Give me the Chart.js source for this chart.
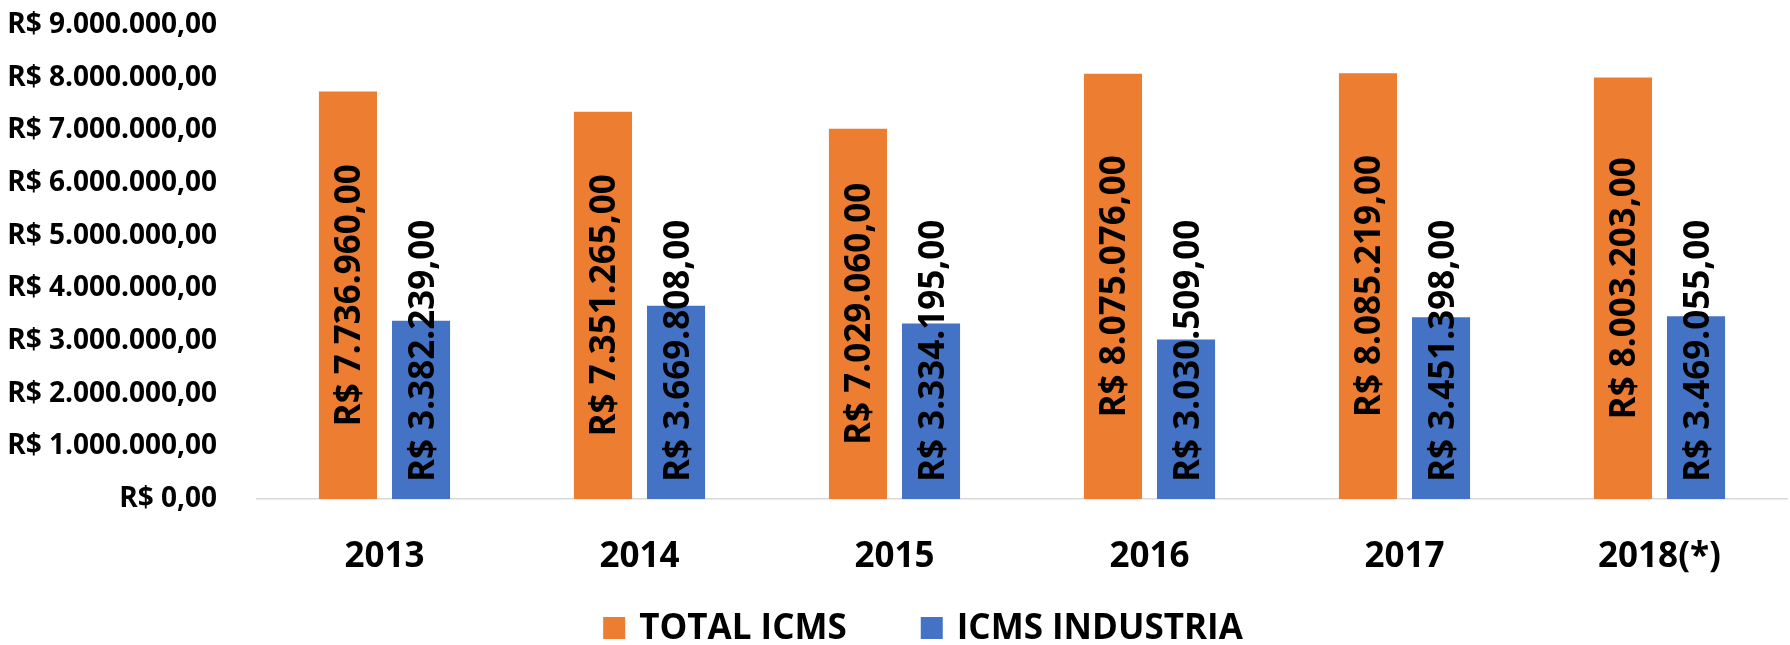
<!DOCTYPE html>
<html>
<head>
<meta charset="utf-8">
<title>ICMS</title>
<script src="https://cdn.jsdelivr.net/npm/chart.js@4.4.1/dist/chart.umd.min.js"></script>
<style>
    html, body { margin: 0; padding: 0; background: #fff; }
    #chartBox { width: 1790px; height: 645px; }
</style>
</head>
<body>
<div id="chartBox"><canvas id="icmsChart"></canvas></div>
<script>
const years = ['2013', '2014', '2015', '2016', '2017', '2018(*)'];
const totalIcms = [7736960, 7351265, 7029060, 8075076, 8085219, 8003203];
const icmsIndustria = [3382239, 3669808, 3334195, 3030509, 3451398, 3469055];
const seriesNames = ['TOTAL ICMS', 'ICMS INDUSTRIA'];
const seriesColors = ['#ED7D31', '#4472C4'];
const yMax = 9000000;
const yStep = 1000000;

function formatReal(num) {
    const fixed = Math.abs(num).toFixed(2).split('.');
    const intPart = fixed[0].replace(/\B(?=(\d{3})+(?!\d))/g, '.');
    return 'R$ ' + intPart + ',' + fixed[1];
}

const barLabels = {
    id: 'barLabels',
    afterDatasetsDraw(chart) {
        const ctx = chart.ctx;
        const fontSize = 35;
        const capH = fontSize * 0.714;
        ctx.save();
        ctx.font = `bold ${fontSize}px "Open Sans"`;
        ctx.fillStyle = '#000';
        ctx.textAlign = 'center';
        ctx.textBaseline = 'alphabetic';
        chart.data.datasets.forEach((ds, di) => {
            const meta = chart.getDatasetMeta(di);
            meta.data.forEach((bar, i) => {
                const text = formatReal(ds.data[i]);
                const w = ctx.measureText(text).width;
                const mid = (bar.y + bar.base) / 2;
                // labels that do not fit are pushed up so they start just above the axis
                const cy = Math.min(mid, bar.base - 17 - w / 2);
                ctx.save();
                ctx.translate(bar.x, cy);
                ctx.rotate(-Math.PI / 2);
                ctx.fillText(text, 0, capH / 2);
                ctx.restore();
            });
        });
        ctx.restore();
    }
};

const bottomLegend = {
    id: 'bottomLegend',
    afterDraw(chart) {
        const ctx = chart.ctx;
        const box = 22, gap = 14, itemGap = 74, cy = 628;
        ctx.save();
        ctx.font = 'bold 35px "Open Sans"';
        ctx.textBaseline = 'middle';
        ctx.textAlign = 'left';
        const items = chart.data.datasets.map(ds => ({
            text: ds.label, color: ds.backgroundColor, w: box + gap + ctx.measureText(ds.label).width
        }));
        const total = items.reduce((s, it) => s + it.w, 0) + itemGap * (items.length - 1);
        let x = chart.width / 2 + 28 - total / 2;
        items.forEach(it => {
            ctx.fillStyle = it.color;
            ctx.fillRect(x, cy - box / 2, box, box);
            ctx.fillStyle = '#000';
            ctx.fillText(it.text, x + box + gap, cy + 1);
            x += it.w + itemGap;
        });
        ctx.restore();
    }
};

const ctx = document.getElementById('icmsChart').getContext('2d');
new Chart(ctx, {
    type: 'bar',
    data: {
        labels: years,
        datasets: [
            { label: seriesNames[0], data: totalIcms, backgroundColor: seriesColors[0] },
            { label: seriesNames[1], data: icmsIndustria, backgroundColor: seriesColors[1] }
        ]
    },
    options: {
        responsive: true,
        maintainAspectRatio: false,
        animation: false,
        categoryPercentage: 0.573,
        barPercentage: 0.795,
        layout: { padding: { top: 25, right: 3, left: 0, bottom: 0 } },
        plugins: {
            legend: { display: false },
            tooltip: { enabled: false }
        },
        scales: {
            y: {
                min: 0,
                max: yMax,
                grid: { display: false },
                border: { display: false },
                ticks: {
                    stepSize: yStep,
                    padding: 32,
                    color: '#000',
                    font: { family: 'Open Sans', weight: 'bold', size: 28 },
                    callback: v => formatReal(v)
                },
                afterFit: scale => {
                    scale.width = 257;
                    scale.paddingTop = 10;
                    scale.paddingBottom = 10;
                }
            },
            x: {
                grid: { display: false },
                border: { color: '#d9d9d9', width: 1.5 },
                ticks: {
                    padding: 29,
                    color: '#000',
                    font: { family: 'Open Sans', weight: 'bold', size: 35 }
                },
                afterFit: scale => {
                    scale.height = 146;
                    scale.paddingRight = 0;
                }
            }
        }
    },
    plugins: [barLabels, bottomLegend]
});
</script>
</body>
</html>
